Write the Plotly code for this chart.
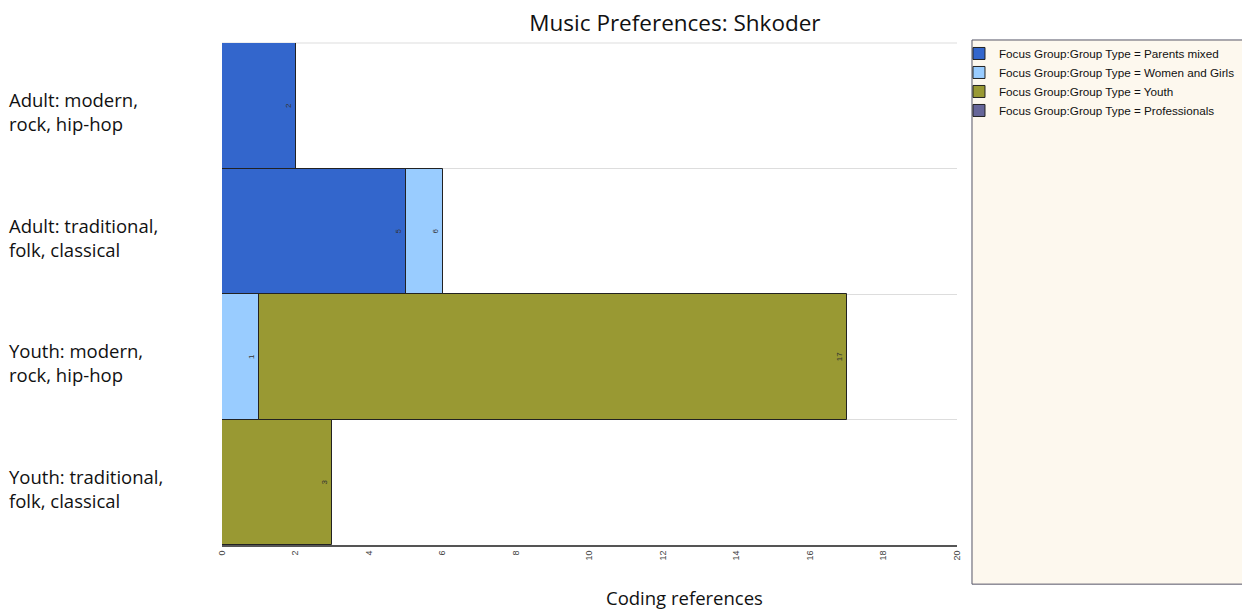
import plotly.graph_objects as go

categories = ["Adult: modern,<br>rock, hip-hop",
              "Adult: traditional,<br>folk, classical",
              "Youth: modern,<br>rock, hip-hop",
              "Youth: traditional,<br>folk, classical"]
series_names = ["Focus Group:Group Type = Parents mixed",
                "Focus Group:Group Type = Women and Girls",
                "Focus Group:Group Type = Youth",
                "Focus Group:Group Type = Professionals"]
parents_mixed = [2, 5, None, None]
women_and_girls = [None, 6, 1, None]
youth = [None, None, 17, 3]
professionals = [None, None, None, None]
colors = ["#3366cc", "#99ccff", "#999933", "#666699"]
x_ticks = [0, 2, 4, 6, 8, 10, 12, 14, 16, 18, 20]

ypos = list(range(len(categories)))
series = [parents_mixed, women_and_girls, youth, professionals]

fig = go.Figure()
# draw order: larger behind smaller (Youth, Women, Parents), legend order by rank
draw_order = [2, 1, 0, 3]
for i in draw_order:
    vals = series[i]
    fig.add_trace(go.Bar(
        y=ypos, x=vals, orientation="h", name=series_names[i],
        marker=dict(color=colors[i], line=dict(color="#222222", width=1)),
        text=[("" if v is None else str(v)) for v in vals],
        textposition="inside", insidetextanchor="end", textangle=-90,
        textfont=dict(size=8, color="#333333", family="Arial"),
        constraintext="none",
        legendrank=i + 1, showlegend=True, hoverinfo="x+name",
    ))

for yi, c in zip(ypos, categories):
    fig.add_annotation(x=-0.2925, xref="paper", y=yi, yref="y", text=c,
                       showarrow=False, xanchor="left", align="left", yshift=-6,
                       font=dict(size=18.5, family="Open Sans", color="#111111"))

fig.add_annotation(x=0.6286, xref="paper", y=-0.104, yref="paper", text="Coding references",
                   showarrow=False, xanchor="center", yanchor="middle",
                   font=dict(size=18.5, family="Open Sans", color="#111111"))

# legend panel background
fig.add_shape(type="rect", xref="paper", yref="paper",
              x0=1.0204, x1=1.3952, y0=-0.078, y1=1.006,
              fillcolor="#fdf8ee", line=dict(color="#555566", width=1), layer="below")
# top boundary line of plot area
fig.add_shape(type="line", xref="paper", yref="paper", x0=0, x1=1, y0=1, y1=1,
              line=dict(color="#dddddd", width=1), layer="below")

fig.update_layout(
    width=1242, height=601,
    barmode="overlay", bargap=0,
    margin=dict(l=214, r=293, t=35, b=64, autoexpand=False),
    paper_bgcolor="white", plot_bgcolor="white",
    title=dict(text="Music Preferences: Shkoder", x=0.537, xanchor="center", y=0.975, yanchor="middle",
               font=dict(size=22.5, family="Open Sans", color="#111111")),
    legend=dict(x=1.0027, y=1.008, xanchor="left", yanchor="top",
                bgcolor="rgba(0,0,0,0)", font=dict(size=11.7, family="Arial", color="#111111"),
                tracegroupgap=0, itemwidth=30),
    showlegend=True,
)
fig.update_xaxes(range=[0, 20], tickvals=x_ticks, tickangle=-90,
                 tickfont=dict(size=9, family="Arial", color="#444444"),
                 showgrid=False, showline=True, linecolor="#555555", linewidth=2,
                 zeroline=False, ticks="")
fig.update_yaxes(range=[3.5, -0.5], tickvals=ypos, showticklabels=False,
                 showgrid=False, zeroline=False, showline=False,
                 minor=dict(tick0=0.5, dtick=1, showgrid=True, gridcolor="#dddddd", gridwidth=1))

fig.write_html("out.html")
